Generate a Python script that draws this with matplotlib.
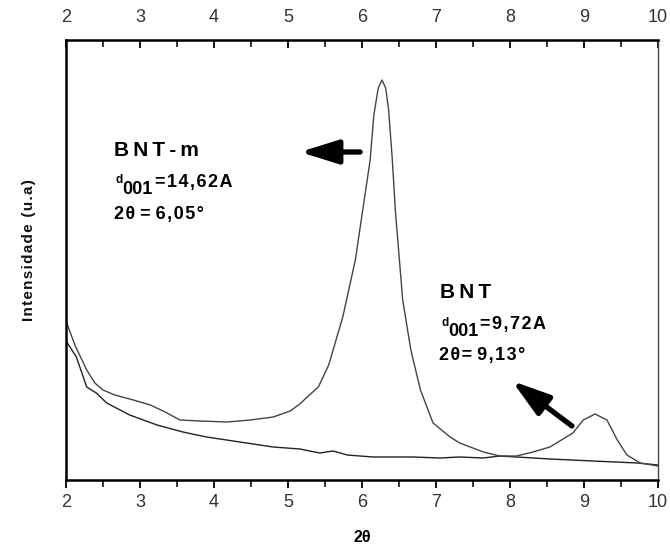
import matplotlib
matplotlib.use("Agg")
import matplotlib.pyplot as plt
from matplotlib.ticker import MultipleLocator

plt.rcParams['font.family'] = ['Liberation Sans', 'DejaVu Sans']

# BNT-m curve (2theta, intensity a.u.)
bntm_x = [2.01, 2.12, 2.28, 2.39, 2.50, 2.66, 2.91, 3.14, 3.34, 3.54, 3.81, 4.18, 4.49,
          4.80, 5.03, 5.16, 5.26, 5.41, 5.55, 5.74, 5.91, 6.01, 6.11, 6.16, 6.22, 6.27,
          6.32, 6.36, 6.41, 6.45, 6.50, 6.55, 6.66, 6.79, 6.96, 7.19, 7.32, 7.64, 7.86,
          8.09, 8.31, 8.54, 8.85, 8.99, 9.15, 9.31, 9.45, 9.58, 9.76, 10.0]
bntm_y = [157, 135, 110, 97, 90, 85, 80, 75, 68, 60, 59, 58, 60,
          63, 69, 76, 83, 93, 115, 163, 220, 270, 320, 365, 392, 400,
          392, 370, 320, 270, 225, 180, 130, 90, 57, 43, 37, 28, 24,
          24, 28, 33, 47, 60, 66, 60, 40, 25, 17, 14]

# BNT curve
bnt_x = [2.01, 2.14, 2.28, 2.41, 2.55, 2.86, 3.23, 3.58, 3.90, 4.35, 4.80, 5.16, 5.43,
         5.61, 5.80, 6.15, 6.69, 7.05, 7.32, 7.64, 7.86, 8.09, 8.54, 9.12, 9.72, 10.0]
bnt_y = [138, 123, 93, 87, 77, 65, 55, 48, 43, 38, 33, 31, 27,
         29, 25, 23, 23, 22, 23, 22, 24, 23, 21, 19, 17, 15]

x_ticks = [2, 3, 4, 5, 6, 7, 8, 9, 10]

HS = '\u200a'
TS = '\u2009'


def sp(s, gap=HS):
    return gap.join(s)


fig = plt.figure(figsize=(6.7, 5.45), dpi=100)
ax = fig.add_axes([66/670, 1-480/545, (658-66)/670, (480-40)/545])

ax.plot(bnt_x, bnt_y, color='#222222', lw=1.0)
ax.plot(bntm_x, bntm_y, color='#444444', lw=1.0)

ax.set_xlim(2, 10)
ax.set_ylim(0, 440)
ax.set_yticks([])
ax.set_xticks(x_ticks)
ax.set_xticklabels([str(t) for t in x_ticks])
ax.xaxis.set_minor_locator(MultipleLocator(0.5))
ax.tick_params(axis='x', which='both', bottom=True, top=True, labelbottom=True, labeltop=True,
               direction='out', labelsize=13, labelcolor='#333333', pad=4)
ax.tick_params(axis='x', which='major', length=6, width=1.3)
ax.tick_params(axis='x', which='minor', length=5, width=1.1)
for t in ax.xaxis.get_major_ticks() + ax.xaxis.get_minor_ticks():
    t.tick2line.set_marker(3)  # inward on top
for s in ['left', 'bottom', 'top']:
    ax.spines[s].set_linewidth(1.8)
ax.spines['right'].set_linewidth(1.0)
ax.spines['right'].set_color('#444444')

ax.set_xlabel('2θ', fontsize=11.5, fontweight='bold', labelpad=14)
fig.text(29/670, 1-250/545, sp('Intensidade (u.a)'), rotation=90, ha='center', va='center',
         fontsize=11, fontweight='bold', color='#111111')


def px(xp, yp):
    return 2 + (xp - 66) / 74, 480 - yp


kw = dict(fontweight='bold', color='black')
ax.text(*px(114, 156), sp('BNT-m', TS), fontsize=15, **kw)
ax.text(*px(115, 183), 'd', fontsize=8.5, **kw)
ax.text(*px(122, 194), '001', fontsize=13, **kw)
ax.text(*px(155, 187), sp('=14,62A'), fontsize=13, **kw)
ax.text(*px(114, 219), sp('2θ') + ' = ' + sp('6,05°'), fontsize=13, **kw)

ax.text(*px(440, 298), sp('BNT', TS), fontsize=15, **kw)
ax.text(*px(441, 326), 'd', fontsize=8.5, **kw)
ax.text(*px(448, 336), '001', fontsize=13, **kw)
ax.text(*px(480, 329), sp('=9,72A'), fontsize=13, **kw)
ax.text(*px(439, 360), sp('2θ=') + ' ' + sp('9,13°'), fontsize=13, **kw)

ap = dict(arrowstyle='-|>,head_length=1.15,head_width=0.36', lw=3.8, color='black',
          mutation_scale=20, shrinkA=0, shrinkB=0)
ax.annotate('', xy=px(300, 152), xytext=px(360, 152), arrowprops=ap)
ax.annotate('', xy=px(512, 381), xytext=px(572, 426), arrowprops=ap)

fig.savefig('out.png', dpi=100)
